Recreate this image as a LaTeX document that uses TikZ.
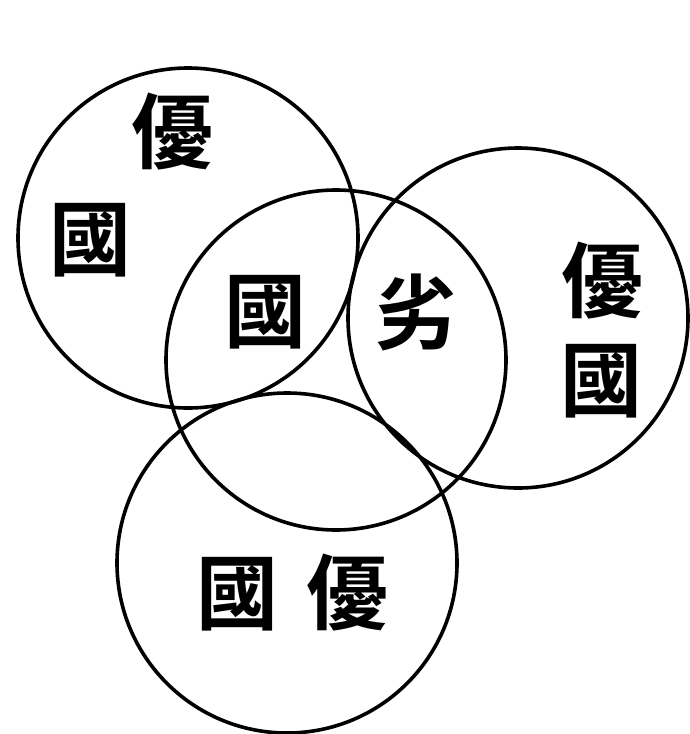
\documentclass[tikz,border=0pt]{standalone}
\usepackage{fontspec}
\newfontfamily\cjk[BoldFont={Noto Sans CJK TC Bold}]{Noto Sans CJK TC}
\begin{document}
\begin{tikzpicture}[x=1pt,y=-1pt,
  ring/.style={draw=black,line width=3.6pt,circle,minimum size=340pt,inner sep=0pt},
  glyph/.style={font=\cjk\bfseries\fontsize{82}{82}\selectfont,inner sep=0pt,text=black}]
\fill[white] (0,0) rectangle (690,734);
\useasboundingbox (0,0) rectangle (690,734);
\node[ring] (A) at (188,238) {};
\node[ring] (B) at (336,360) {};
\node[ring] (C) at (518,318) {};
\node[ring] (D) at (287,563) {};
\node[glyph] (a1) at (172,132) {優};
\node[glyph] (a2) at (90,240) {國};
\node[glyph] (b1) at (265,312) {國};
\node[glyph] (b2) at (416,312) {劣};
\node[glyph] (c1) at (602,281) {優};
\node[glyph] (c2) at (601,381) {國};
\node[glyph] (d1) at (237,594) {國};
\node[glyph] (d2) at (347,593) {優};
\end{tikzpicture}
\end{document}
